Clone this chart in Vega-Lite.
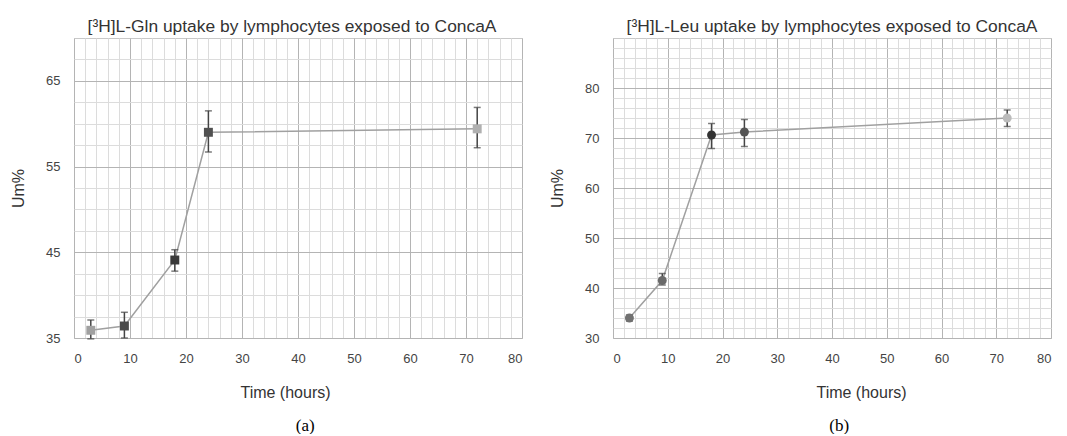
{
  "$schema": "https://vega.github.io/schema/vega-lite/v6.json",
  "padding": {"left": 10, "top": 17, "right": 5, "bottom": 0},
  "background": "white",
  "config": {
    "font": "Liberation Sans",
    "view": {"stroke": "#c8c8c8"},
    "axis": {
      "labelFont": "Liberation Sans",
      "labelFontSize": 13,
      "labelColor": "#444444",
      "labelOverlap": false,
      "titleFont": "Liberation Sans",
      "titleFontSize": 16,
      "titleFontWeight": "normal",
      "titleColor": "#333333",
      "ticks": false,
      "domain": false,
      "grid": true,
      "gridWidth": 1,
      "labelPadding": 14,
      "format": "d"
    },
    "title": {"font": "Liberation Sans", "fontSize": 17.4, "fontWeight": "normal", "color": "#333333"}
  },
  "datasets": {
    "gln": [
      {"t": 3, "y": 35.9, "lo": 34.9, "hi": 37.1},
      {"t": 9, "y": 36.4, "lo": 35.0, "hi": 38.0},
      {"t": 18, "y": 44.1, "lo": 42.8, "hi": 45.3},
      {"t": 24, "y": 59.0, "lo": 56.7, "hi": 61.5},
      {"t": 72, "y": 59.4, "lo": 57.2, "hi": 61.9}
    ],
    "leu": [
      {"t": 3, "y": 34.0, "lo": 33.4, "hi": 34.6},
      {"t": 9, "y": 41.5, "lo": 40.6, "hi": 42.9},
      {"t": 18, "y": 70.6, "lo": 67.9, "hi": 72.9},
      {"t": 24, "y": 71.2, "lo": 68.3, "hi": 73.7},
      {"t": 72, "y": 74.0, "lo": 72.3, "hi": 75.6}
    ]
  },
  "spacing": 26,
  "resolve": {"scale": {"color": "independent"}},
  "hconcat": [
    {
      "title": {"text": "(a)", "orient": "bottom", "font": "Liberation Serif", "fontSize": 17, "color": "#000000", "offset": 17, "anchor": "middle", "frame": "bounds", "dx": 39},
      "vconcat": [
        {
          "width": 448,
          "height": 300,
          "data": {"name": "gln"},
          "title": {"text": "[³H]L-Gln uptake by lymphocytes exposed to ConcaA", "frame": "group", "offset": 3, "dx": -6},
          "encoding": {
            "x": {
              "field": "t", "type": "quantitative",
              "scale": {"domain": [0, 80], "nice": false, "zero": false},
              "axis": {
                "title": "Time (hours)",
                "titlePadding": 19,
                "tickCount": 200,
                "format": "d",
                "values": [0,2,4,6,8,10,12,14,16,18,20,22,24,26,28,30,32,34,36,38,40,42,44,46,48,50,52,54,56,58,60,62,64,66,68,70,72,74,76,78,80],
                "labelExpr": "datum.value % 10 === 0 ? datum.label : ''",
                "gridColor": {"condition": {"test": "datum.value % 10 === 0", "value": "#b4b4b4"}, "value": "#dcdcdc"},
                "titleX": 211
              }
            }
          },
          "layer": [
            {
              "mark": {"type": "line", "color": "#a0a0a0", "strokeWidth": 1.5},
              "encoding": {
                "y": {
                  "field": "y", "type": "quantitative",
                  "scale": {"domain": [35, 70], "nice": false, "zero": false},
                  "axis": {
                    "title": "Um%",
                    "titlePadding": 19,
                    "tickCount": 200,
                    "format": "d",
                    "values": [35,37.5,40,42.5,45,47.5,50,52.5,55,57.5,60,62.5,65,67.5],
                    "labelExpr": "datum.value % 10 === 5 ? datum.label : ''",
                    "gridColor": {"condition": {"test": "datum.value % 10 === 5", "value": "#b4b4b4"}, "value": "#dcdcdc"}
                  }
                }
              }
            },
            {
              "mark": {"type": "rule", "color": "#444444", "strokeWidth": 1.5},
              "encoding": {
                "y": {"field": "lo", "type": "quantitative"},
                "y2": {"field": "hi"}
              }
            },
            {
              "mark": {"type": "tick", "orient": "horizontal", "color": "#444444", "size": 7, "thickness": 1.5},
              "encoding": {"y": {"field": "lo", "type": "quantitative"}}
            },
            {
              "mark": {"type": "tick", "orient": "horizontal", "color": "#444444", "size": 7, "thickness": 1.5},
              "encoding": {"y": {"field": "hi", "type": "quantitative"}}
            },
            {
              "mark": {"type": "point", "filled": true, "shape": "square", "size": 80, "opacity": 1},
              "encoding": {
                "y": {"field": "y", "type": "quantitative"},
                "color": {
                  "field": "t", "type": "ordinal",
                  "scale": {"domain": [3, 9, 18, 24, 72], "range": ["#a0a0a0", "#4a4a4a", "#3a3a3a", "#505050", "#b0b0b0"]},
                  "legend": null
                }
              }
            }
          ]
        }
      ]
    },
    {
      "title": {"text": "(b)", "orient": "bottom", "font": "Liberation Serif", "fontSize": 17, "color": "#000000", "offset": 17, "anchor": "middle", "frame": "bounds", "dx": 39},
      "vconcat": [
        {
          "width": 438,
          "height": 300,
          "data": {"name": "leu"},
          "title": {"text": "[³H]L-Leu uptake by lymphocytes exposed to ConcaA", "frame": "group", "offset": 3},
          "encoding": {
            "x": {
              "field": "t", "type": "quantitative",
              "scale": {"domain": [0, 80], "nice": false, "zero": false},
              "axis": {
                "title": "Time (hours)",
                "titlePadding": 19,
                "tickCount": 200,
                "format": "d",
                "values": [0,2,4,6,8,10,12,14,16,18,20,22,24,26,28,30,32,34,36,38,40,42,44,46,48,50,52,54,56,58,60,62,64,66,68,70,72,74,76,78,80],
                "labelExpr": "datum.value % 10 === 0 ? datum.label : ''",
                "gridColor": {"condition": {"test": "datum.value % 10 === 0", "value": "#b4b4b4"}, "value": "#dcdcdc"},
                "titleX": 248
              }
            }
          },
          "layer": [
            {
              "mark": {"type": "line", "color": "#a0a0a0", "strokeWidth": 1.5},
              "encoding": {
                "y": {
                  "field": "y", "type": "quantitative",
                  "scale": {"domain": [30, 90], "nice": false, "zero": false},
                  "axis": {
                    "title": "Um%",
                    "titlePadding": 19,
                    "tickCount": 200,
                    "format": "d",
                    "values": [30,32,34,36,38,40,42,44,46,48,50,52,54,56,58,60,62,64,66,68,70,72,74,76,78,80,82,84,86,88],
                    "labelExpr": "datum.value % 10 === 0 ? datum.label : ''",
                    "gridColor": {"condition": {"test": "datum.value % 10 === 0", "value": "#b4b4b4"}, "value": "#dcdcdc"}
                  }
                }
              }
            },
            {
              "mark": {"type": "rule", "color": "#444444", "strokeWidth": 1.5},
              "encoding": {
                "y": {"field": "lo", "type": "quantitative"},
                "y2": {"field": "hi"}
              }
            },
            {
              "mark": {"type": "tick", "orient": "horizontal", "color": "#444444", "size": 7, "thickness": 1.5},
              "encoding": {"y": {"field": "lo", "type": "quantitative"}}
            },
            {
              "mark": {"type": "tick", "orient": "horizontal", "color": "#444444", "size": 7, "thickness": 1.5},
              "encoding": {"y": {"field": "hi", "type": "quantitative"}}
            },
            {
              "mark": {"type": "point", "filled": true, "shape": "circle", "size": 80, "opacity": 1},
              "encoding": {
                "y": {"field": "y", "type": "quantitative"},
                "color": {
                  "field": "t", "type": "ordinal",
                  "scale": {"domain": [3, 9, 18, 24, 72], "range": ["#707070", "#6a6a6a", "#333333", "#555555", "#bbbbbb"]},
                  "legend": null
                }
              }
            }
          ]
        }
      ]
    }
  ]
}
